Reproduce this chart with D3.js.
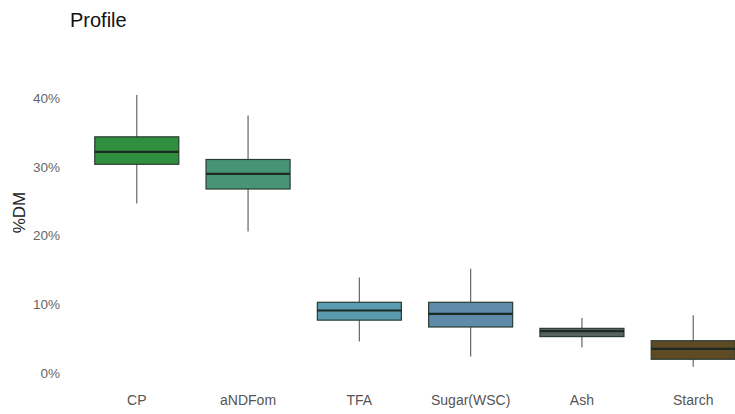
<!DOCTYPE html>
<html><head><meta charset="utf-8">
<script src="https://cdn.jsdelivr.net/npm/d3@7"></script>
<style>body{margin:0;background:#fff}svg{display:block}text{font-family:"Liberation Sans",Arial,sans-serif}</style>
</head><body><svg id="c" width="735" height="414"></svg>
<script>
const categories = ["CP","aNDFom","TFA","Sugar(WSC)","Ash","Starch"];
const whiskerLow  = [24.6, 20.5, 4.5, 2.3, 3.6, 0.8];
const q1          = [30.3, 26.7, 7.6, 6.6, 5.2, 1.9];
const median      = [32.1, 28.9, 9.0, 8.5, 6.0, 3.4];
const q3          = [34.3, 31.0, 10.2, 10.2, 6.4, 4.6];
const whiskerHigh = [40.4, 37.4, 13.8, 15.1, 7.9, 8.3];
const fills = ["#2f8f3f","#479478","#5a9bb0","#5e8ba8","#566360","#5e4a24"];
const yTicks = [0,10,20,30,40];

const svg = d3.select("#c");
const x = d3.scaleBand().domain(categories).range([70, 760]).paddingInner(0).paddingOuter(0.1);
// band width ~ 111.3
const y = d3.scaleLinear().domain([0,40]).range([372.3, 97.7]);
const bw = x.bandwidth()*0.755;

const data = categories.map((c,i)=>({c, lo:whiskerLow[i], q1:q1[i], med:median[i], q3:q3[i], hi:whiskerHigh[i], fill:fills[i]}));

const g = svg.append("g");
const box = g.selectAll("g.box").data(data).join("g").attr("class","box")
  .attr("transform", d=>`translate(${x(d.c)+x.bandwidth()/2},0)`);
box.append("line").attr("x1",0).attr("x2",0).attr("y1",d=>y(d.hi)).attr("y2",d=>y(d.lo))
  .attr("stroke","#666").attr("stroke-width",1.2);
box.append("rect").attr("x",-bw/2).attr("width",bw).attr("y",d=>y(d.q3)).attr("height",d=>y(d.q1)-y(d.q3))
  .attr("fill",d=>d.fill).attr("stroke","#2c3b33").attr("stroke-width",1.2);
box.append("line").attr("x1",-bw/2).attr("x2",bw/2).attr("y1",d=>y(d.med)).attr("y2",d=>y(d.med))
  .attr("stroke","#1c2a24").attr("stroke-width",2.2);

// y axis
const ya = svg.append("g").attr("transform","translate(60,0)")
  .call(d3.axisLeft(y).tickValues(yTicks).tickFormat(d=>d+"%").tickSize(0).tickPadding(0));
ya.select(".domain").remove();
ya.selectAll("text").attr("fill","#666").style("font-size","13.5px").attr("dy","0.35em");

// x axis
const xa = svg.append("g").attr("transform","translate(0,392)")
  .call(d3.axisBottom(x).tickSize(0).tickPadding(0));
xa.select(".domain").remove();
xa.selectAll("text").attr("fill","#555").style("font-size","14px").attr("dy","0.95em");

svg.append("text").attr("transform","translate(25,212.5) rotate(-90)").attr("text-anchor","middle")
  .style("font-size","17px").attr("fill","#222").text("%DM");
svg.append("text").attr("x",70).attr("y",26.5).style("font-size","20px").attr("fill","#111").text("Profile");
</script></body></html>
